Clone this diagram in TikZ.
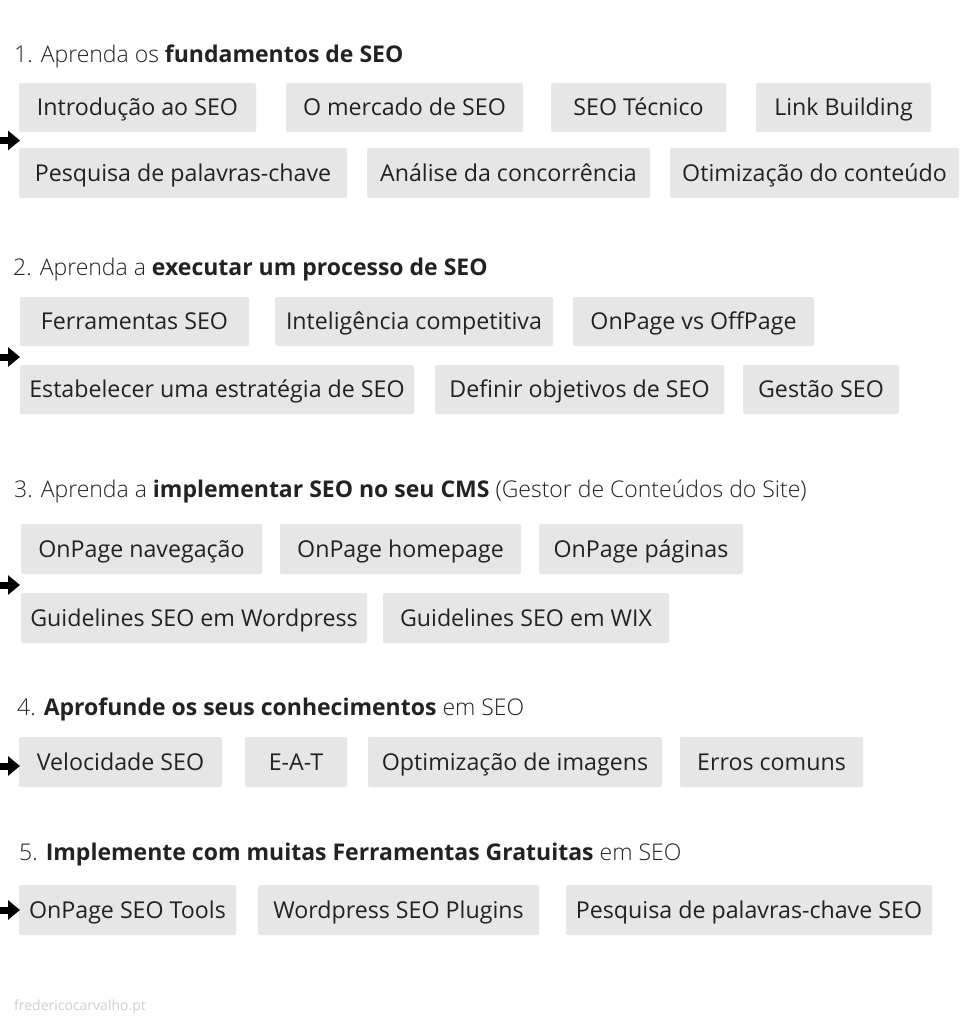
\documentclass[tikz,border=0pt]{standalone}
\usepackage{fontspec}
\setmainfont{Open Sans}
\IfFontExistsTF{Open Sans Light}{\newfontfamily\lightfont{Open Sans Light}}{\newcommand\lightfont{\color{black!80}}}
\usetikzlibrary{arrows.meta}
\definecolor{boxgray}{HTML}{E6E6E6}
\definecolor{txt}{HTML}{222222}
\definecolor{foot}{HTML}{D0D0D0}
\tikzset{
  box/.style={fill=boxgray, rounded corners=2pt, text=txt, inner sep=0pt, align=center, text height=16.6pt, text depth=0pt, font=\fontsize{23.2}{28}\selectfont},
  head/.style={anchor=base west, inner sep=0pt, text=txt, font=\fontsize{23}{28}\selectfont},
  pointer/.style={line width=7pt, -{Triangle[length=12pt,width=19pt]}, black},
}
\newcommand\bx[6]{\node[box, minimum width={(#3-#2)*1pt}, minimum height={(#5-#4)*1pt}] (#1) at ({(#2+#3)/2},{(#4+#5)/2}) {#6};}
\begin{document}
\begin{tikzpicture}[x=1pt,y=-1pt]
\useasboundingbox[fill=white] (0,0) rectangle (971,1024);
% Section 1
\node[head] (h1) at (14,63) {{\lightfont 1. Aprenda os }\textbf{fundamentos de SEO}};
\bx{a1}{19}{256}{83}{132}{Introdução ao SEO}
\bx{a2}{286}{523}{83}{132}{O mercado de SEO}
\bx{a3}{551}{726}{83}{132}{SEO Técnico}
\bx{a4}{756}{931}{83}{132}{Link Building}
\bx{a5}{19}{347}{148}{198}{Pesquisa de palavras-chave}
\bx{a6}{367}{650}{148}{198}{Análise da concorrência}
\bx{a7}{670}{959}{148}{198}{Otimização do conteúdo}
\coordinate (t1) at (0,140.5);
\coordinate (p1) at (20,140.5);
\draw[pointer] (t1) -- (p1);
% Section 2
\node[head] (h2) at (13,275) {{\lightfont 2. Aprenda a }\textbf{executar um processo de SEO}};
\bx{b1}{20}{249}{297}{346}{Ferramentas SEO}
\bx{b2}{275}{553}{297}{346}{Inteligência competitiva}
\bx{b3}{573}{814}{297}{346}{OnPage vs OffPage}
\bx{b4}{20}{414}{365}{414}{Estabelecer uma estratégia de SEO}
\bx{b5}{435}{724}{365}{414}{Definir objetivos de SEO}
\bx{b6}{743}{899}{365}{414}{Gestão SEO}
\coordinate (t2) at (0,357);
\coordinate (p2) at (20,357);
\draw[pointer] (t2) -- (p2);
% Section 3
\node[head] (h3) at (14,497) {{\lightfont 3. Aprenda a }\textbf{implementar SEO no seu CMS} {\lightfont(Gestor de Conteúdos do Site)}};
\bx{c1}{21}{262}{524}{574}{OnPage navegação}
\bx{c2}{280}{521}{524}{574}{OnPage homepage}
\bx{c3}{539}{743}{524}{574}{OnPage páginas}
\bx{c4}{21}{367}{593}{643}{Guidelines SEO em Wordpress}
\bx{c5}{383}{669}{593}{643}{Guidelines SEO em WIX}
\coordinate (t3) at (0,585);
\coordinate (p3) at (20,585);
\draw[pointer] (t3) -- (p3);
% Section 4
\node[head] (h4) at (17,715) {{\lightfont 4. }\textbf{Aprofunde os seus conhecimentos} {\lightfont em SEO}};
\bx{d1}{19}{222}{737}{787}{Velocidade SEO}
\bx{d2}{245}{347}{737}{787}{E-A-T}
\bx{d3}{368}{662}{737}{787}{Optimização de imagens}
\bx{d4}{680}{863}{737}{787}{Erros comuns}
\coordinate (t4) at (0,766);
\coordinate (p4) at (20,766);
\draw[pointer] (t4) -- (p4);
% Section 5
\node[head] (h5) at (19,860) {{\lightfont 5. }\textbf{Implemente com muitas Ferramentas Gratuitas} {\lightfont em SEO}};
\bx{e1}{19}{236}{885}{935}{OnPage SEO Tools}
\bx{e2}{258}{539}{885}{935}{Wordpress SEO Plugins}
\bx{e3}{566}{932}{885}{935}{Pesquisa de palavras-chave SEO}
\coordinate (t5) at (0,910);
\coordinate (p5) at (20,910);
\draw[pointer] (t5) -- (p5);
% footer
\node[anchor=base west, inner sep=0pt, text=foot, font=\fontsize{14}{16}\selectfont] (ft) at (14,1010) {fredericocarvalho.pt};
\end{tikzpicture}
\end{document}
